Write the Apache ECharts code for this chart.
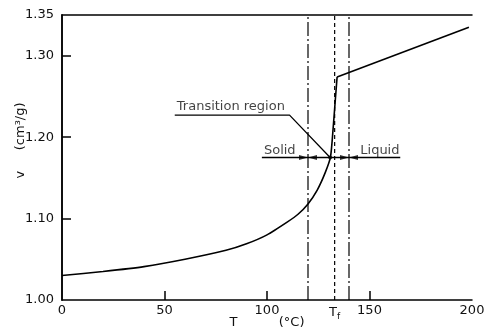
<!DOCTYPE html>
<html>
<head>
<meta charset="utf-8">
<script src="https://cdn.jsdelivr.net/npm/echarts@6/dist/echarts.min.js"></script>
<style>html,body{margin:0;padding:0;background:#fff}#c{width:486px;height:331px}</style>
</head>
<body>
<div id="c"></div>
<script>
// Solid / transition branch
const solidT = [0, 20, 40, 60, 80, 90, 100, 110, 115, 120, 124.5, 128.5, 131, 132.3, 133.3, 134.2];
const solidV = [1.030, 1.035, 1.041, 1.050, 1.061, 1.069, 1.080, 1.096, 1.105, 1.118, 1.135, 1.157, 1.176, 1.212, 1.245, 1.274];
// Liquid branch
const liquidT = [134.2, 198.5];
const liquidV = [1.274, 1.335];
// Vertical reference lines
const vlineT = [120, 133, 140];
// Axis ticks / labels
const xLabelValues = [0, 50, 100, 133, 150, 200];
const xTickValues = [50, 100, 150];
const yLabelValues = [1.00, 1.10, 1.20, 1.30, 1.35];
const yTickValues = [1.10, 1.20, 1.30];
// Annotations
const leaderT = [55, 111, 130.8];
const leaderV = [1.227, 1.227, 1.175];
const phaseLineT = [97.5, 165];
const phaseLineV = 1.175;
const annotTexts = ['Transition region', 'Solid', 'Liquid'];
const annotT = [56, 98.5, 145.5];
const annotV = [1.237, 1.184, 1.184];

const ink = '#000';
const zip = (a, b) => a.map((x, i) => [x, Array.isArray(b) ? b[i] : b]);

const chart = echarts.init(document.getElementById('c'));
const font = 'DejaVu Sans';

const vStyles = [
  {type: [14, 3, 2, 3], width: 1.2},
  {type: [4, 3], width: 1.2},
  {type: [14, 3, 2, 3], width: 1.2}
];

const series = [
  {type: 'line', data: zip(solidT, solidV), showSymbol: false, smooth: 0.2,
   lineStyle: {color: ink, width: 1.6}, silent: true, z: 5},
  {type: 'line', data: zip(liquidT, liquidV), showSymbol: false,
   lineStyle: {color: ink, width: 1.6}, silent: true, z: 5}
];
vlineT.forEach((t, i) => {
  series.push({type: 'line', data: [[t, 1.0], [t, 1.35]], showSymbol: false,
    lineStyle: {color: ink, width: vStyles[i].width, type: vStyles[i].type}, silent: true});
});
series.push({type: 'line', data: zip(leaderT, leaderV), showSymbol: false,
  lineStyle: {color: ink, width: 1.3}, silent: true});
series.push({type: 'line', data: zip(phaseLineT, phaseLineV), showSymbol: false,
  lineStyle: {color: ink, width: 1.3}, silent: true});
// Arrowheads pointing to the boundaries
const arrowData = [];
[vlineT[0], vlineT[2]].forEach(t => {
  arrowData.push({value: [t - 2.2, phaseLineV], symbolRotate: -90});
  arrowData.push({value: [t + 2.2, phaseLineV], symbolRotate: 90});
});
series.push({type: 'scatter', data: arrowData, symbol: 'triangle', symbolSize: [5, 9],
  itemStyle: {color: ink}, silent: true, z: 6});
series.push({type: 'scatter', data: [[leaderT[2], phaseLineV]], symbol: 'circle', symbolSize: 4,
  itemStyle: {color: ink}, silent: true, z: 6});
series.push({type: 'scatter', symbolSize: 0, silent: true,
  data: annotTexts.map((s, i) => ({value: [annotT[i], annotV[i]], name: s})),
  label: {show: true, position: 'right', distance: 0, formatter: p => p.name,
    color: '#111', fontFamily: font, fontSize: 13}});

const frameAxis = {
  axisLine: {show: true, lineStyle: {color: ink, width: 1.5}},
  axisTick: {show: false}, axisLabel: {show: false}, splitLine: {show: false}
};

chart.setOption({
  animation: false,
  grid: {left: 62, right: 14, top: 15, bottom: 31, outerBoundsMode: 'none'},
  xAxis: [{
    type: 'value', min: 0, max: 200, interval: 50,
    name: 'T          (°C)', nameLocation: 'middle', nameGap: 16, nameMoveOverlap: false,
    nameTextStyle: {color: '#111', fontFamily: font, fontSize: 13},
    axisLine: {show: true, lineStyle: {color: ink, width: 1.5}},
    axisTick: {show: true, inside: true, length: 9, customValues: xTickValues, lineStyle: {color: ink, width: 1.5}},
    axisLabel: {customValues: xLabelValues, margin: 4, color: '#111', fontFamily: font, fontSize: 13,
      formatter: v => v === 133 ? '{t|T}{s|f}' : String(v),
      rich: {t: {fontFamily: font, fontSize: 13, color: '#111'}, s: {fontFamily: font, fontSize: 9, color: '#111', padding: [8, 0, 0, 0]}}},
    splitLine: {show: false}
  }, Object.assign({type: 'value', min: 0, max: 200, position: 'top'}, frameAxis)],
  yAxis: [{
    type: 'value', min: 1.0, max: 1.35, interval: 0.1,
    name: 'v     (cm³/g)', nameLocation: 'middle', nameGap: 35, nameRotate: 90, nameMoveOverlap: false,
    nameTextStyle: {color: '#111', fontFamily: font, fontSize: 13, padding: [0, 0, 0, 34]},
    axisLine: {show: true, lineStyle: {color: ink, width: 1.5}},
    axisTick: {show: true, inside: true, length: 9, customValues: yTickValues, lineStyle: {color: ink, width: 1.5}},
    axisLabel: {customValues: yLabelValues, margin: 8, color: '#111', fontFamily: font, fontSize: 13,
      formatter: v => v.toFixed(2)},
    splitLine: {show: false}
  }, Object.assign({type: 'value', min: 1.0, max: 1.35, position: 'right'}, frameAxis)],
  series: series
});
</script>
</body>
</html>
